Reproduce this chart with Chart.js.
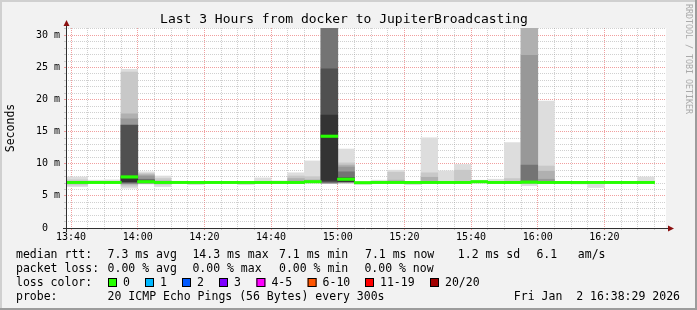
<!DOCTYPE html>
<html>
<head>
<meta charset="utf-8">
<script src="https://cdn.jsdelivr.net/npm/chart.js@4"></script>
<style>
  html, body { margin: 0; padding: 0; background: #f2f2f2; }
  canvas { display: block; }
</style>
</head>
<body>
<canvas id="smoke" width="697" height="310"></canvas>
<script>
// 5 minute bins, labelled by their end time
const binEnds = ["13:40","13:45","13:50","13:55","14:00","14:05","14:10","14:15","14:20","14:25",
  "14:30","14:35","14:40","14:45","14:50","14:55","15:00","15:05","15:10","15:15",
  "15:20","15:25","15:30","15:35","15:40","15:45","15:50","15:55","16:00","16:05",
  "16:10","16:15","16:20","16:25","16:30","16:35"];

// median rtt per bin (ms)
const median = [7.1,7.1,7.1,7.1,7.95,7.2,7.1,7.1,7.1,7.1,
  7.1,7.1,7.1,7.1,7.1,7.2,14.3,7.6,7.05,7.1,
  7.1,7.1,7.1,7.1,7.1,7.2,7.1,7.1,7.15,7.1,
  7.1,7.1,7.1,7.1,7.1,7.1];

// smoke bands, outermost (band1) to innermost (band7): [low, high] in ms
const band1 = [[6.45,7.95],[6.45,7.95],[7.0,7.45],[7.0,7.5],[6.2,24.7],[6.85,8.75],[6.45,8.1],[7.0,7.3],[6.75,7.2],[7.0,7.2],
  [7.0,7.2],[6.75,7.15],[6.95,7.8],[7.0,7.35],[6.95,8.6],[7.0,10.45],[6.9,45],[6.95,12.3],[6.8,7.2],[7.0,7.45],
  [7.0,9.0],[6.75,7.15],[7.0,14.05],[7.0,8.9],[7.0,9.9],[7.0,7.45],[7.0,7.6],[7.0,13.3],[6.6,45],[7.0,19.75],
  [7.0,7.2],[6.85,7.15],[6.3,7.1],[7.0,7.2],[7.0,7.2],[7.0,7.95]];
const band2 = [[6.7,7.5],[6.7,7.5],null,null,[6.5,24.3],[6.9,8.5],[6.8,7.7],null,null,null,
  null,null,null,null,[7.0,8.1],[7.05,8.0],[6.95,45],[7.0,10.15],null,null,
  [7.0,8.7],null,[7.0,8.6],null,[7.0,9.0],null,null,[7.0,7.7],[6.9,45],[7.0,9.65],
  null,null,null,null,null,null];
const band3 = [null,null,null,null,[6.8,17.8],[6.95,8.3],[6.95,7.35],null,null,null,
  null,null,null,null,[7.0,7.7],[7.1,7.5],[7.0,45],[7.05,9.8],null,null,
  [7.05,7.45],null,[7.05,7.9],null,null,null,null,null,[7.0,45],[7.05,8.85],
  null,null,null,null,null,null];
const band4 = [null,null,null,null,[6.9,17.0],[7.0,8.1],null,null,null,null,
  null,null,null,null,[7.05,7.3],null,[7.0,42],[7.1,9.5],null,null,
  null,null,[7.05,7.25],null,null,null,null,null,[7.05,26.9],[7.1,7.6],
  null,null,null,null,null,null];
const band5 = [null,null,null,null,[7.0,16.05],[7.05,7.6],null,null,null,null,
  null,null,null,null,null,null,[7.05,40],[7.2,8.75],null,null,
  null,null,null,null,null,null,null,null,[7.1,9.8],null,
  null,null,null,null,null,null];
const band6 = [null,null,null,null,[7.15,16.0],[7.1,7.45],null,null,null,null,
  null,null,null,null,null,null,[7.2,24.8],[7.2,7.85],null,null,
  null,null,null,null,null,null,null,null,null,null,
  null,null,null,null,null,null];
const band7 = [null,null,null,null,[7.2,7.95],null,null,null,null,null,
  null,null,null,null,null,null,[7.4,17.6],[7.25,7.45],null,null,
  null,null,null,null,null,null,null,null,null,null,
  null,null,null,null,null,null];

const yTicks = [0,1,2,3,4,5,6,7,8,9,10,11,12,13,14,15,16,17,18,19,20,21,22,23,24,25,26,27,28,29,30,31];

const titleText = "Last 3 Hours from docker to JupiterBroadcasting";
const rttStats = ["7.3 ms avg", "14.3 ms max", "7.1 ms min", "7.1 ms now", "1.2 ms sd", "6.1", "am/s"];
const lossStats = ["0.00 % avg", "0.00 % max", "0.00 % min", "0.00 % now"];
const lossLabels = ["0", "1", "2", "3", "4-5", "6-10", "11-19", "20/20"];
const lossColors = ["#26ff00", "#00b8ff", "#0059ff", "#7e00ff", "#ff00ff", "#ff5500", "#ff0000", "#a10000"];
const probeText = "20 ICMP Echo Pings (56 Bytes) every 300s";
const stampText = "Fri Jan  2 16:38:29 2026";

// layout bits (pixels)
const rttX = [107.6, 192.4, 279, 365, 457.8, 536.4, 577.8];
const lossX = [107.6, 192.4, 279, 364.4];
const swatchX = [108, 145, 182, 219, 256.4, 307.6, 365, 430];
const bandColors = ["#dddddd", "#c8c8c8", "#b0b0b0", "#989898", "#747474", "#505050", "#333333"];
const MONO = "'DejaVu Sans Mono', monospace";
const MINOR = "rgba(150,150,150,0.45)";
const MAJOR = "rgba(230,80,80,0.55)";

const toMin = s => { const [h, m] = s.split(":").map(Number); return (h - 13) * 60 + m; };
const centers = binEnds.map(s => toMin(s) - 2.5);
const xMin = 38 + 29 / 60;       // 13:38:29
const xMax = xMin + 180;         // 16:38:29
const xTicks = [];
for (let t = 40; t <= 215; t += 5) xTicks.push(t);
const fmtTime = v => (13 + Math.floor(v / 60)) + ":" + String(v % 60).padStart(2, "0");

const bands = [band1, band2, band3, band4, band5, band6, band7];
const half = 0.16;

const datasets = [{
  label: "median",
  data: median.map((m, i) => ({ x: centers[i], y: [m - half, m + half] })),
  backgroundColor: lossColors[0],
  order: 0
}];
bands.forEach((b, k) => {
  datasets.push({
    label: "band" + (k + 1),
    data: b.map((r, i) => r ? { x: centers[i], y: r } : null).filter(Boolean),
    backgroundColor: bandColors[k],
    order: 10 - k
  });
});
datasets.forEach(d => Object.assign(d, {
  grouped: false, barPercentage: 1, categoryPercentage: 1, borderWidth: 0, clip: 0
}));

const rrdFrame = {
  id: "rrdFrame",
  beforeDraw(chart) {
    const { ctx, chartArea: a, width, height } = chart;
    ctx.save();
    ctx.fillStyle = "#f2f2f2";
    ctx.fillRect(0, 0, width, height);
    ctx.fillStyle = "#d0d0d0";
    ctx.fillRect(0, 0, width, 2);
    ctx.fillRect(0, 0, 2, height);
    ctx.fillStyle = "#9c9c9c";
    ctx.fillRect(0, height - 2, width, 2);
    ctx.fillRect(width - 2, 0, 2, height);
    ctx.fillStyle = "#ffffff";
    ctx.fillRect(a.left, a.top, a.right - a.left, a.bottom - a.top);
    ctx.restore();
  },
  afterDraw(chart) {
    const { ctx, chartArea: a } = chart;
    ctx.save();
    // median line on top of the grid
    ctx.beginPath();
    ctx.rect(a.left, a.top, a.right - a.left, a.bottom - a.top);
    ctx.clip();
    chart.getDatasetMeta(0).data.forEach(el => el.draw(ctx));
    ctx.restore();

    ctx.save();
    // axes
    ctx.strokeStyle = "#303030";
    ctx.lineWidth = 1;
    ctx.beginPath();
    ctx.moveTo(a.left - 3, a.bottom + 0.5);
    ctx.lineTo(a.right + 2, a.bottom + 0.5);
    ctx.moveTo(a.left + 0.5, a.bottom + 4);
    ctx.lineTo(a.left + 0.5, a.top - 2);
    ctx.stroke();
    ctx.fillStyle = "#8b1010";
    ctx.beginPath();
    ctx.moveTo(a.right + 2, a.bottom - 2.5);
    ctx.lineTo(a.right + 8, a.bottom + 0.5);
    ctx.lineTo(a.right + 2, a.bottom + 3.5);
    ctx.closePath();
    ctx.fill();
    ctx.beginPath();
    ctx.moveTo(a.left - 2.5, a.top - 2);
    ctx.lineTo(a.left + 0.5, a.top - 8);
    ctx.lineTo(a.left + 3.5, a.top - 2);
    ctx.closePath();
    ctx.fill();

    // title
    ctx.fillStyle = "#000";
    ctx.font = "13px " + MONO;
    ctx.textAlign = "center";
    ctx.textBaseline = "alphabetic";
    ctx.fillText(titleText, 344, 23);

    // vertical axis label
    ctx.save();
    ctx.font = "11.5px " + MONO;
    ctx.translate(14, 128);
    ctx.rotate(-Math.PI / 2);
    ctx.fillText("Seconds", 0, 0);
    ctx.restore();

    // watermark
    ctx.save();
    ctx.fillStyle = "#aaaaaa";
    ctx.font = "8.3px " + MONO;
    ctx.textAlign = "left";
    ctx.translate(685.7, 4);
    ctx.rotate(Math.PI / 2);
    ctx.fillText("RRDTOOL / TOBI OETIKER", 0, 0);
    ctx.restore();

    // legend
    ctx.font = "11.5px " + MONO;
    ctx.textAlign = "left";
    ctx.fillStyle = "#000";
    const rows = [258, 272, 286, 300];
    ctx.fillText("median rtt:", 16, rows[0]);
    rttStats.forEach((t, i) => ctx.fillText(t, rttX[i], rows[0]));
    ctx.fillText("packet loss:", 16, rows[1]);
    lossStats.forEach((t, i) => ctx.fillText(t, lossX[i], rows[1]));
    ctx.fillText("loss color:", 16, rows[2]);
    lossLabels.forEach((t, i) => {
      ctx.fillStyle = lossColors[i];
      ctx.fillRect(swatchX[i], 278, 9, 9);
      ctx.strokeStyle = "#000";
      ctx.strokeRect(swatchX[i] + 0.5, 278.5, 8, 8);
      ctx.fillStyle = "#000";
      ctx.fillText(t, swatchX[i] + 15, rows[2]);
    });
    ctx.fillText("probe:", 16, rows[3]);
    ctx.fillText(probeText, 107.6, rows[3]);
    ctx.textAlign = "right";
    ctx.fillText(stampText, 680, rows[3]);
    ctx.restore();
  }
};

new Chart(document.getElementById("smoke"), {
  type: "bar",
  data: { datasets },
  plugins: [rrdFrame],
  options: {
    responsive: false,
    animation: false,
    devicePixelRatio: 1,
    layout: { padding: { left: 0, right: 31, top: 28, bottom: 62 } },
    plugins: { legend: { display: false }, tooltip: { enabled: false }, title: { display: false } },
    scales: {
      x: {
        type: "linear",
        min: xMin,
        max: xMax,
        offset: false,
        z: 1,
        afterBuildTicks: s => { s.ticks = xTicks.map(v => ({ value: v })); },
        afterFit: s => { s.height = 20; },
        grid: {
          offset: false,
          color: c => (c.tick && c.tick.value % 20 === 0) ? MAJOR : MINOR,
          tickColor: c => (c.tick && c.tick.value % 20 === 0) ? MAJOR : MINOR,
          lineWidth: 1,
          drawTicks: true,
          tickLength: 2
        },
        border: { display: false, dash: [1, 1] },
        ticks: {
          autoSkip: false,
          maxRotation: 0,
          padding: 1,
          color: "#000",
          font: { family: MONO, size: 10 },
          callback: v => v % 20 === 0 ? fmtTime(v) : ""
        }
      },
      y: {
        type: "linear",
        min: 0,
        max: 31.15,
        z: 1,
        afterBuildTicks: s => { s.ticks = yTicks.map(v => ({ value: v })); },
        afterFit: s => { s.width = 66; },
        grid: {
          color: c => (c.tick && c.tick.value % 5 === 0) ? MAJOR : MINOR,
          tickColor: c => (c.tick && c.tick.value % 5 === 0) ? MAJOR : MINOR,
          lineWidth: 1,
          drawTicks: true,
          tickLength: 2
        },
        border: { display: false, dash: [1, 1] },
        ticks: {
          autoSkip: false,
          padding: 4,
          color: "#000",
          font: { family: MONO, size: 10 },
          callback: v => v % 5 !== 0 ? "" : (v === 0 ? "0  " : v + " m")
        }
      }
    }
  }
});
</script>
</body>
</html>
